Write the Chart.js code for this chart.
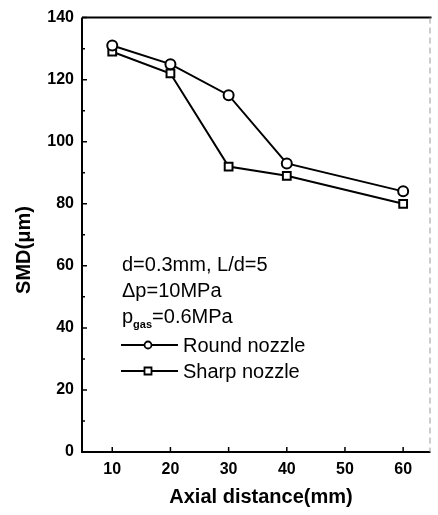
<!DOCTYPE html>
<html>
<head>
<meta charset="utf-8">
<script src="https://cdn.jsdelivr.net/npm/chart.js@4/dist/chart.umd.min.js"></script>
<style>
  html, body { margin: 0; padding: 0; background: #fff; }
  #wrap { position: relative; width: 438px; height: 515px; }
</style>
</head>
<body>
<div id="wrap"><canvas id="c" width="438" height="515"></canvas></div>
<script>
// ---- data ----
const distances = [10, 20, 30, 40, 60];
const roundNozzle = [131, 125, 115, 93, 84];
const sharpNozzle = [129, 122, 92, 89, 80];
const xTicks = [10, 20, 30, 40, 50, 60];
const yTicks = [0, 20, 40, 60, 80, 100, 120, 140];
const yMinorTicks = [10, 30, 50, 70, 90, 110, 130];
const seriesNames = ['Round nozzle', 'Sharp nozzle'];
const noteLines = ['d=0.3mm, L/d=5', '\u0394p=10MPa'];
const xTitle = 'Axial distance(mm)';
const yTitle = 'SMD(\u03BCm)';

const FONT = '"Liberation Sans", Arial, sans-serif';

const overlay = {
  id: 'overlay',
  afterDraw(chart) {
    const ctx = chart.ctx;
    const a = chart.chartArea;
    const xs = chart.scales.x, ys = chart.scales.y;
    ctx.save();
    ctx.strokeStyle = '#000';
    ctx.fillStyle = '#000';
    // frame
    ctx.lineWidth = 2;
    ctx.beginPath();
    ctx.moveTo(a.left, a.top);
    ctx.lineTo(a.left, a.bottom);
    ctx.lineTo(a.right, a.bottom);
    ctx.stroke();
    ctx.beginPath();
    ctx.moveTo(a.left, a.top);
    ctx.lineTo(a.right + 1, a.top);
    ctx.stroke();
    ctx.strokeStyle = '#999';
    ctx.lineWidth = 1;
    ctx.setLineDash([6, 4]);
    ctx.beginPath();
    ctx.moveTo(a.right - 0.5, a.top);
    ctx.lineTo(a.right - 0.5, a.bottom);
    ctx.stroke();
    ctx.setLineDash([]);
    ctx.strokeStyle = '#000';
    // inward ticks
    ctx.lineWidth = 1.5;
    ctx.beginPath();
    yTicks.forEach(v => { const y = ys.getPixelForValue(v); ctx.moveTo(a.left, y); ctx.lineTo(a.left + 5, y); });
    yMinorTicks.forEach(v => { const y = ys.getPixelForValue(v); ctx.moveTo(a.left, y); ctx.lineTo(a.left + 3, y); });
    xTicks.forEach(v => { const x = xs.getPixelForValue(v); ctx.moveTo(x, a.bottom); ctx.lineTo(x, a.bottom - 5); });
    ctx.stroke();

    // axis titles
    ctx.font = 'bold 20px ' + FONT;
    ctx.textAlign = 'center';
    ctx.textBaseline = 'alphabetic';
    ctx.fillText(xTitle, 261, 503);
    ctx.save();
    ctx.translate(30, 250);
    ctx.rotate(-Math.PI / 2);
    ctx.fillText(yTitle, 0, 0);
    ctx.restore();

    // annotation text
    const tx = 122;
    ctx.textAlign = 'left';
    ctx.font = '20px ' + FONT;
    ctx.fillText(noteLines[0], tx, 271);
    ctx.fillText(noteLines[1], tx, 297);
    ctx.fillText('p', tx, 323);
    const pw = ctx.measureText('p').width;
    ctx.font = 'bold 11px ' + FONT;
    ctx.fillText('gas', tx + pw, 328);
    const gw = ctx.measureText('gas').width;
    ctx.font = '20px ' + FONT;
    ctx.fillText('=0.6MPa', tx + pw + gw, 323);

    // legend
    const legY = [352, 378];
    chart.data.datasets.forEach((ds, i) => {
      const cy = legY[i] - 7;
      ctx.lineWidth = 1.8;
      ctx.strokeStyle = '#000';
      ctx.beginPath();
      ctx.moveTo(121, cy); ctx.lineTo(178, cy);
      ctx.stroke();
      ctx.fillStyle = '#fff';
      ctx.beginPath();
      if (ds.pointStyle === 'circle') {
        ctx.arc(148, cy, 3.5, 0, Math.PI * 2);
      } else {
        ctx.rect(144.5, cy - 3.5, 7, 7);
      }
      ctx.fill();
      ctx.stroke();
      ctx.fillStyle = '#000';
      ctx.font = '20px ' + FONT;
      ctx.fillText(ds.label, 183, legY[i]);
    });
    ctx.restore();
  }
};

new Chart(document.getElementById('c'), {
  type: 'line',
  data: {
    datasets: [
      {
        label: seriesNames[0],
        data: distances.map((d, i) => ({ x: d, y: roundNozzle[i] })),
        borderColor: '#000', borderWidth: 2,
        pointStyle: 'circle', pointRadius: 5,
        pointBackgroundColor: '#fff', pointBorderColor: '#000', pointBorderWidth: 2,
        tension: 0, fill: false
      },
      {
        label: seriesNames[1],
        data: distances.map((d, i) => ({ x: d, y: sharpNozzle[i] })),
        borderColor: '#000', borderWidth: 2,
        pointStyle: 'rect', pointRadius: 5.5,
        pointBackgroundColor: '#fff', pointBorderColor: '#000', pointBorderWidth: 2,
        tension: 0, fill: false
      }
    ]
  },
  options: {
    responsive: false,
    animation: false,
    devicePixelRatio: 1,
    layout: { padding: { top: 17, right: 1, left: 0, bottom: 0 } },
    plugins: { legend: { display: false }, tooltip: { enabled: false }, title: { display: false } },
    scales: {
      x: {
        type: 'linear', min: 4.8, max: 64.7,
        afterBuildTicks: s => { s.ticks = xTicks.map(v => ({ value: v })); },
        afterFit: s => { s.height = 63; },
        grid: { display: false, drawTicks: false },
        border: { display: false },
        ticks: { color: '#000', font: { family: FONT, size: 16, weight: 'bold' }, padding: 8, maxRotation: 0, autoSkip: false }
      },
      y: {
        type: 'linear', min: 0, max: 140,
        afterBuildTicks: s => { s.ticks = yTicks.map(v => ({ value: v })); },
        afterFit: s => { s.width = 82; },
        grid: { display: false, drawTicks: false },
        border: { display: false },
        ticks: { color: '#000', font: { family: FONT, size: 16, weight: 'bold' }, padding: 8, autoSkip: false }
      }
    }
  },
  plugins: [overlay]
});
</script>
</body>
</html>
